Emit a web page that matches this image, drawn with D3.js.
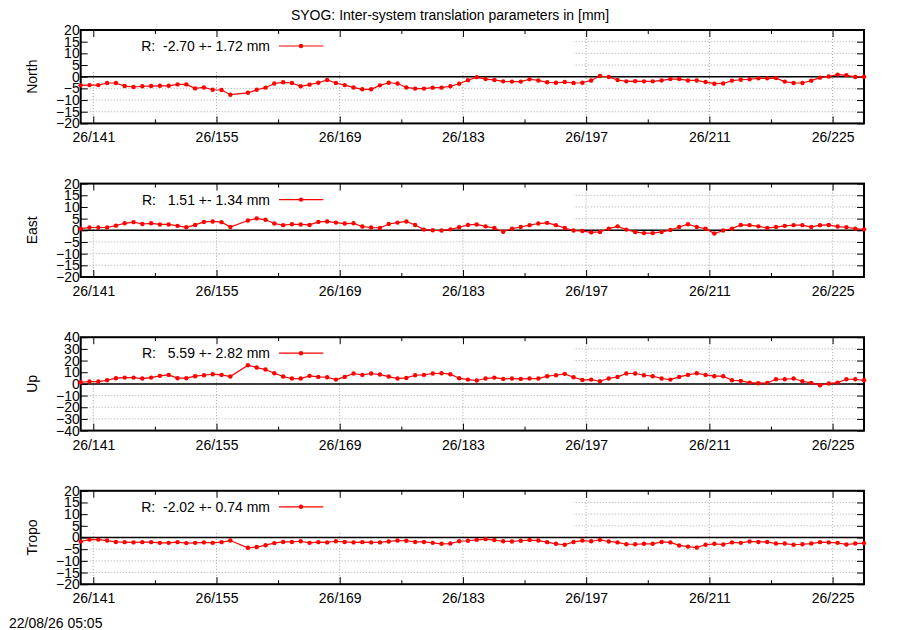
<!DOCTYPE html>
<html>
<head>
<meta charset="utf-8">
<script src="https://cdn.jsdelivr.net/npm/d3@7"></script>
<style>
  body { margin: 0; background: #fff; }
  svg { display: block; font-family: "Liberation Sans", Arial, sans-serif; }
  text { white-space: pre; }
</style>
</head>
<body>
<svg id="chart" width="900" height="630"></svg>
<script>
// day of year 2026 (day 157 has no solution)
var days = [139, 140, 141, 142, 143, 144, 145, 146, 147, 148, 149, 150, 151, 152, 153, 154, 155, 156,
            158, 159, 160, 161, 162, 163, 164, 165, 166, 167, 168, 169, 170, 171, 172, 173, 174, 175,
            176, 177, 178, 179, 180, 181, 182, 183, 184, 185, 186, 187, 188, 189, 190, 191, 192, 193,
            194, 195, 196, 197, 198, 199, 200, 201, 202, 203, 204, 205, 206, 207, 208, 209, 210, 211,
            212, 213, 214, 215, 216, 217, 218, 219, 220, 221, 222, 223, 224, 225, 226, 227, 228];
var epochFrac = 0.57;   // time of day of each solution

var north = [-3.7, -3.6, -3.6, -2.7, -2.7, -4.0, -4.4, -4.1, -4.0, -3.9, -3.9, -3.3, -3.3, -5.0, -4.6, -5.6, -5.7, -7.7,
             -6.9, -5.6, -4.7, -2.9, -2.4, -2.7, -4.1, -3.4, -2.6, -1.4, -2.7, -3.6, -4.6, -5.4, -5.4, -3.7, -2.6,
             -2.9, -4.6, -5.1, -5.1, -4.7, -4.7, -4.1, -3.0, -1.5, -0.2, -1.0, -1.4, -2.0, -2.1, -2.1, -1.1, -1.6,
             -2.4, -2.6, -2.3, -2.7, -2.6, -1.6, 0.3, -0.1, -1.4, -2.0, -1.9, -2.0, -2.0, -1.6, -1.0, -1.0, -1.6,
             -1.6, -2.3, -3.0, -2.9, -1.7, -1.3, -1.1, -0.7, -0.7, -0.6, -2.1, -2.7, -2.7, -1.7, -0.4, 0.1, 0.9,
             0.6, -0.1, 0.0];
var east = [0.7, 1.2, 1.2, 1.2, 2.0, 3.0, 3.5, 2.7, 3.0, 2.5, 2.5, 1.9, 1.3, 2.3, 3.6, 3.8, 3.5, 1.4,
            4.2, 5.1, 4.5, 2.9, 2.2, 2.6, 2.5, 2.3, 3.6, 3.8, 3.3, 2.9, 3.0, 1.6, 1.2, 1.0, 2.7, 3.3,
            3.8, 2.3, 0.3, 0.0, -0.1, 0.4, 1.3, 2.3, 2.5, 1.7, 1.0, -0.6, 0.7, 1.4, 2.2, 2.9, 3.2, 2.2,
            1.0, -0.1, -0.3, -0.9, -0.7, 0.7, 1.7, 0.3, -0.7, -1.2, -1.2, -0.7, 0.1, 1.4, 2.6, 1.4, 0.7,
            -1.4, -0.1, 0.7, 2.3, 2.2, 1.7, 1.0, 1.4, 1.9, 2.2, 2.2, 1.4, 2.2, 2.3, 1.6, 1.3, 0.7, 0.4];
var up = [1.4, 2.0, 2.0, 3.1, 4.9, 5.4, 5.4, 4.6, 5.4, 6.9, 7.7, 4.9, 4.9, 6.6, 7.4, 8.3, 7.7, 6.3,
          16.0, 14.0, 12.3, 9.1, 6.3, 4.6, 4.6, 6.9, 6.0, 5.7, 3.7, 6.0, 8.9, 7.7, 8.9, 8.0, 6.3, 4.6,
          5.1, 7.4, 7.7, 8.9, 9.1, 8.3, 4.9, 3.7, 2.9, 4.6, 5.4, 4.3, 4.6, 4.3, 4.6, 4.6, 6.6, 7.4,
          8.6, 5.7, 3.4, 3.7, 2.3, 4.6, 6.0, 8.9, 8.9, 7.4, 6.6, 4.6, 3.7, 6.0, 7.7, 9.1, 7.7, 6.6,
          6.6, 3.1, 2.6, 1.1, 0.6, 0.9, 4.0, 4.0, 4.6, 2.3, 0.9, -1.1, 0.3, 1.1, 4.0, 4.0, 3.1];
var tropo = [-1.7, -0.9, -0.9, -1.3, -1.9, -2.0, -2.1, -2.0, -2.0, -2.3, -2.3, -2.0, -2.4, -2.3, -2.1, -2.3, -2.0, -1.3,
             -4.4, -4.1, -3.3, -2.4, -1.9, -1.9, -1.6, -2.3, -2.0, -2.1, -1.6, -1.9, -2.1, -2.0, -2.1, -2.1, -1.7, -1.3,
             -1.4, -1.9, -1.9, -2.3, -2.7, -2.6, -1.6, -1.4, -1.0, -0.7, -1.1, -1.6, -1.7, -1.4, -1.1, -1.3, -2.0,
             -2.7, -3.1, -1.9, -1.3, -1.6, -1.0, -1.7, -2.1, -2.9, -2.9, -2.7, -2.7, -1.9, -2.1, -3.4, -3.9, -4.3,
             -3.1, -2.7, -3.0, -2.1, -2.3, -1.7, -1.9, -1.9, -2.6, -2.6, -3.1, -2.9, -2.6, -2.0, -2.1, -2.3, -3.0,
             -2.6, -2.4];

var panelNames = ["North", "East", "Up", "Tropo"];
var panelSeries = [north, east, up, tropo];
var panelRanges = [20, 20, 40, 20];
var panelSteps = [5, 5, 10, 5];
var keyTexts = ["R:  -2.70 +- 1.72 mm", "R:   1.51 +- 1.34 mm", "R:   5.59 +- 2.82 mm", "R:  -2.02 +- 0.74 mm"];
var majorDays = [141, 155, 169, 183, 197, 211, 225];
var minorDays = [148, 162, 176, 190, 204, 218];
var title = "SYOG: Inter-system translation parameters in [mm]";
var stamp = "22/08/26 05:05";

var svg = d3.select("#chart");
var left = 80.7, right = 864, width = right - left;
var panelTop = 30, panelGap = 153.6, panelH = 93.4;
var fontSize = 14;

var scX = d3.scaleLinear()
    .domain([days[0] + epochFrac, days[days.length - 1] + epochFrac])
    .range([0, width]);

svg.append("text")
    .attr("x", 450).attr("y", 20)
    .attr("text-anchor", "middle")
    .attr("font-size", fontSize)
    .text(title);

svg.append("text")
    .attr("x", 9).attr("y", 628)
    .attr("font-size", fontSize)
    .text(stamp);

panelNames.forEach(function(name, i) {
    var vals = panelSeries[i];
    var data = days.map((d, j) => ({x: d + epochFrac, y: vals[j]}));
    var lim = panelRanges[i], step = panelSteps[i];
    var yTicks = d3.range(-lim, lim + step / 2, step);

    var scY = d3.scaleLinear().domain([-lim, lim]).range([panelH, 0]);

    var g = svg.append("g")
        .attr("transform", "translate(" + left + "," + (panelTop + i * panelGap) + ")");

    // grid
    var grid = g.append("g").attr("id", "grid" + i)
        .attr("stroke", "#a8a8a8").attr("stroke-width", 1).attr("stroke-dasharray", "1,2");
    grid.selectAll("line.h")
        .data(yTicks.filter(v => Math.abs(v) < lim)).enter()
        .append("line").attr("class", "h")
        .attr("x1", 0).attr("x2", width)
        .attr("y1", d => scY(d)).attr("y2", d => scY(d));
    grid.selectAll("line.v")
        .data(majorDays).enter()
        .append("line").attr("class", "v")
        .attr("x1", d => scX(d)).attr("x2", d => scX(d))
        .attr("y1", 0).attr("y2", panelH);

    // opaque key box
    g.append("rect")
        .attr("x", 1).attr("y", 1)
        .attr("width", 492).attr("height", 39)
        .attr("fill", "#fff");

    // zero axis
    g.append("line")
        .attr("x1", 0).attr("x2", width)
        .attr("y1", scY(0)).attr("y2", scY(0))
        .attr("stroke", "#000").attr("stroke-width", 1.5);

    // axes, ticks pointing inwards
    var xb = g.append("g").attr("transform", "translate(0," + panelH + ")")
        .call(d3.axisBottom(scX).tickValues(majorDays).tickSize(-7).tickPadding(9)
              .tickFormat(d => "26/" + d));
    g.append("g").attr("transform", "translate(0," + panelH + ")")
        .call(d3.axisBottom(scX).tickValues(minorDays).tickSize(-4).tickFormat(""));
    g.append("g")
        .call(d3.axisTop(scX).tickValues(majorDays).tickSize(-7).tickFormat(""));
    g.append("g")
        .call(d3.axisTop(scX).tickValues(minorDays).tickSize(-4).tickFormat(""));
    var yl = g.append("g")
        .call(d3.axisLeft(scY).tickValues(yTicks).tickSize(-7).tickPadding(1));
    g.append("g").attr("transform", "translate(" + width + ",0)")
        .call(d3.axisRight(scY).tickValues(yTicks).tickSize(-7).tickFormat(""));

    g.selectAll(".domain").remove();
    g.selectAll(".tick line").attr("stroke", "#000").attr("stroke-width", 1);
    g.selectAll(".tick text")
        .attr("font-family", "Liberation Sans, Arial, sans-serif")
        .attr("font-size", fontSize).attr("fill", "#000");
    xb.selectAll(".tick text").attr("dy", "0.71em");

    // border
    g.append("rect")
        .attr("x", 0).attr("y", 0)
        .attr("width", width).attr("height", panelH)
        .attr("fill", "none").attr("stroke", "#000").attr("stroke-width", 2);

    // axis name
    g.append("text")
        .attr("transform", "translate(" + (31.7 - left) + "," + (panelH / 2) + ") rotate(-90)")
        .attr("text-anchor", "middle")
        .attr("dy", "0.35em")
        .attr("font-size", fontSize)
        .text(name);

    // data
    var lineMaker = d3.line().x(d => scX(d.x)).y(d => scY(d.y));
    var ds = g.append("g").attr("id", "ds" + i);
    ds.append("path")
        .attr("fill", "none").attr("stroke", "#ff0000").attr("stroke-width", 1.2)
        .attr("d", lineMaker(data));
    ds.selectAll("circle")
        .data(data).enter()
        .append("circle")
        .attr("r", 2.2).attr("fill", "#ff0000")
        .attr("cx", d => scX(d.x))
        .attr("cy", d => scY(d.y));

    // key
    var key = g.append("g").attr("transform", "translate(0,16)");
    key.append("text")
        .attr("x", 270 - left).attr("dy", "0.35em")
        .attr("text-anchor", "end")
        .attr("font-size", fontSize)
        .text(keyTexts[i]);
    key.append("line")
        .attr("x1", 279 - left).attr("x2", 323.3 - left)
        .attr("stroke", "#ff0000").attr("stroke-width", 1.2);
    key.append("circle")
        .attr("cx", 301 - left).attr("r", 2.2).attr("fill", "#ff0000");
});
</script>
</body>
</html>
